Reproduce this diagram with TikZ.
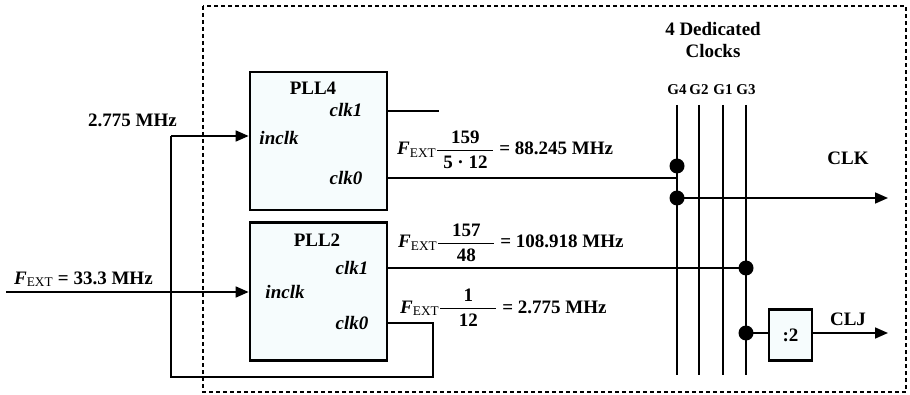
\documentclass[tikz,border=0pt]{standalone}
\usepackage{amsmath}
\usepackage{fontspec}
\setmainfont{Liberation Serif}
\usetikzlibrary{arrows.meta}
\definecolor{boxfill}{RGB}{246,252,253}
\newcommand{\fext}{\text{\textit{F}}_{\text{\mdseries EXT}}}
\newcommand{\myfrac}[2]{\genfrac{}{}{1.4pt}{0}{\makebox[56pt]{#1}}{\makebox[56pt]{#2}}}
\begin{document}
\begin{tikzpicture}[x=1pt,y=-1pt,
  font=\fontsize{19}{22}\selectfont\bfseries,
  pll/.style={draw, line width=2.8pt, fill=boxfill, minimum width=137pt, minimum height=138pt, inner sep=0pt},
  divbox/.style={draw, line width=2.8pt, fill=boxfill, minimum width=43pt, minimum height=51pt, inner sep=0pt},
  wire/.style={line width=1.7pt},
  arr/.style={wire, -{Triangle[length=13pt,width=11pt]}},
  dotn/.style={circle, fill=black, inner sep=0pt, minimum size=15pt},
  port/.style={font=\fontsize{19}{22}\selectfont\bfseries\itshape},
  glbl/.style={font=\fontsize{15}{18}\selectfont\bfseries},
  txt/.style={inner sep=0pt}
]
\useasboundingbox (0,0) rectangle (910,395);
% dashed frame
\draw[line width=1.5pt, dash pattern=on 4pt off 3pt] (203,6) rectangle (906,392);

% PLL boxes
\node[pll] (pll4) at (318.5,141) {};
\node[pll] (pll2) at (318.5,291.5) {};
\node (pll4t) at (313,88) {PLL4};
\node[port] (pll4c1) at (346,110) {clk1};
\node[port] (pll4in) at (279,138) {inclk};
\node[port] (pll4c0) at (346,178) {clk0};
\node (pll2t) at (317,240) {PLL2};
\node[port] (pll2c1) at (352,268) {clk1};
\node[port] (pll2in) at (285,292) {inclk};
\node[port] (pll2c0) at (352,323) {clk0};

% bus lines
\foreach \n/\x in {G4/677,G2/699,G1/723,G3/746}{
  \coordinate (\n top) at (\x,105);
  \coordinate (\n bot) at (\x,375);
  \node[glbl] (\n lab) at (\x,90) {\n};
  \draw[wire] (\n top) -- (\n bot);
}
\node (ded1) at (713,29) {4 Dedicated};
\node (ded2) at (713,51) {Clocks};

% PLL4 outputs
\coordinate (c1end) at (439,111);
\draw[wire] (pll4.east |- c1end) -- (c1end);
\coordinate (g4a) at (677,178);
\draw[wire] (pll4.east |- g4a) -- (g4a);
\node[dotn] (d1) at (677,166) {};
\node[dotn] (d2) at (677,198) {};
\coordinate (clkend) at (888,198);
\draw[arr] (d2.center) -- (clkend);
\node (clk) at (848,158) {CLK};

% PLL2 outputs
\node[dotn] (d3) at (746,268) {};
\draw[wire] (pll2.east |- d3) -- (d3.center);
\node[dotn] (d4) at (746,333) {};
\node[divbox] (div) at (790.5,335) {:2};
\draw[wire] (d4.center) -- (div.west |- d4);
\coordinate (cljend) at (888,333);
\draw[arr] (div.east |- cljend) -- (cljend);
\node (clj) at (848,319) {CLJ};

% feedback from PLL2 clk0 to PLL4 inclk
\coordinate (fb1) at (433,323);
\coordinate (fb2) at (433,377);
\coordinate (fb3) at (171,377);
\coordinate (fb4) at (171,136);
\draw[wire] (pll2.east |- fb1) -- (fb1) -- (fb2) -- (fb3) -- (fb4);
\draw[arr] (fb4) -- (pll4.west |- fb4);
\node[txt, anchor=base west] (f2775) at (88,127) {2.775 MHz};

% external input
\coordinate (inl) at (6,292);
\draw[arr] (inl) -- (pll2.west |- inl);
\node[txt, anchor=base west] (fin) at (14,284) {$\fext\text{ = 33.3 MHz}$};

% formulas
\node[txt, anchor=base west] (eq1) at (397,155) {$\fext\myfrac{159}{5 · 12}\text{ = 88.245 MHz}$};
\node[txt, anchor=base west] (eq2) at (398,248) {$\fext\myfrac{157}{48}\text{ = 108.918 MHz}$};
\node[txt, anchor=base west] (eq3) at (400,313) {$\fext\myfrac{1}{12}\text{ = 2.775 MHz}$};
\end{tikzpicture}
\end{document}
